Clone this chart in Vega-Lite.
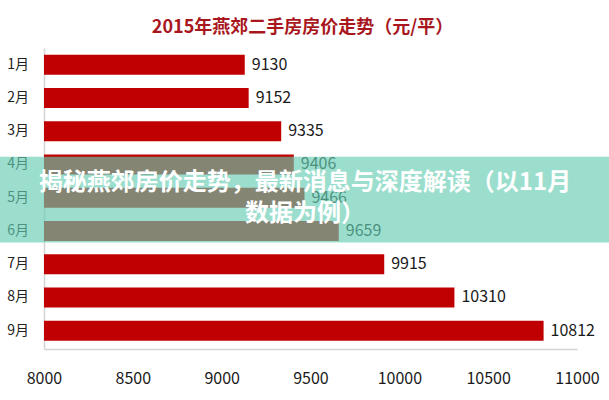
{
  "$schema": "https://vega.github.io/schema/vega-lite/v6.json",
  "width": 533,
  "height": 301,
  "autosize": {"type": "none"},
  "padding": {"left": 44, "top": 48, "right": 32, "bottom": 51},
  "background": "white",
  "title": {
    "text": "2015年燕郊二手房房价走势（元/平）",
    "font": "Noto Sans CJK SC",
    "fontSize": 18,
    "fontWeight": "bold",
    "color": "#a8171d",
    "anchor": "middle",
    "dx": -8,
    "offset": 11
  },
  "config": {
    "view": {"stroke": null},
    "font": "Noto Sans CJK SC"
  },
  "datasets": {
    "prices": [
      {"month": "1月", "m": 1, "price": 9130},
      {"month": "2月", "m": 2, "price": 9152},
      {"month": "3月", "m": 3, "price": 9335},
      {"month": "4月", "m": 4, "price": 9406},
      {"month": "5月", "m": 5, "price": 9466},
      {"month": "6月", "m": 6, "price": 9659},
      {"month": "7月", "m": 7, "price": 9915},
      {"month": "8月", "m": 8, "price": 10310},
      {"month": "9月", "m": 9, "price": 10812}
    ],
    "banner": [
      {"headline": ["揭秘燕郊房价走势，最新消息与深度解读（以11月", "数据为例）"]}
    ]
  },
  "layer": [
    {
      "data": {"name": "prices"},
      "mark": {"type": "bar", "orient": "horizontal", "height": 20, "color": "#c00000"},
      "encoding": {
        "x": {
          "field": "price",
          "type": "quantitative",
          "scale": {"domain": [8000, 11000], "nice": false, "zero": false, "padding": 0},
          "axis": {
            "values": [8000, 8500, 9000, 9500, 10000, 10500, 11000],
            "format": "d",
            "title": null,
            "grid": false,
            "ticks": false,
            "domainColor": "#d4d4d4",
            "domainWidth": 1.5,
            "labelFontSize": 16,
            "labelColor": "#1a1a1a",
            "labelPadding": 21,
            "labelFlush": false,
            "labelOverlap": false
          }
        },
        "x2": {"datum": 8000},
        "y": {
          "field": "m",
          "type": "quantitative",
          "scale": {"domain": [0.5, 9.55], "nice": false, "zero": false, "reverse": true, "padding": 0},
          "axis": {
            "title": null,
            "grid": false,
            "ticks": false,
            "labels": false,
            "domainColor": "#d4d4d4",
            "domainWidth": 1.5
          }
        }
      }
    },
    {
      "data": {"name": "prices"},
      "mark": {"type": "text", "align": "left", "baseline": "middle", "dx": 7, "fontSize": 16, "color": "#1a1a1a"},
      "encoding": {
        "x": {"field": "price", "type": "quantitative"},
        "y": {"field": "m", "type": "quantitative"},
        "text": {"field": "price", "type": "quantitative", "format": "d"}
      }
    },
    {
      "data": {"name": "prices"},
      "mark": {"type": "text", "align": "right", "baseline": "middle", "dx": -15, "fontSize": 14, "color": "#222222"},
      "encoding": {
        "x": {"datum": 8000, "type": "quantitative"},
        "y": {"field": "m", "type": "quantitative"},
        "text": {"field": "month", "type": "nominal"}
      }
    },
    {
      "data": {"name": "banner"},
      "mark": {"type": "rect", "color": "#65cdb2", "opacity": 0.65},
      "encoding": {
        "x": {"datum": 7752, "type": "quantitative"},
        "x2": {"datum": 11180},
        "y": {"datum": 3.77, "type": "quantitative"},
        "y2": {"datum": 6.35}
      }
    },
    {
      "data": {"name": "banner"},
      "mark": {"type": "text", "align": "center", "baseline": "middle", "fontSize": 24, "fontWeight": "bold", "color": "white", "lineHeight": 31},
      "encoding": {
        "x": {"datum": 9469, "type": "quantitative"},
        "y": {"datum": 4.55, "type": "quantitative"},
        "text": {"field": "headline"}
      }
    }
  ]
}
